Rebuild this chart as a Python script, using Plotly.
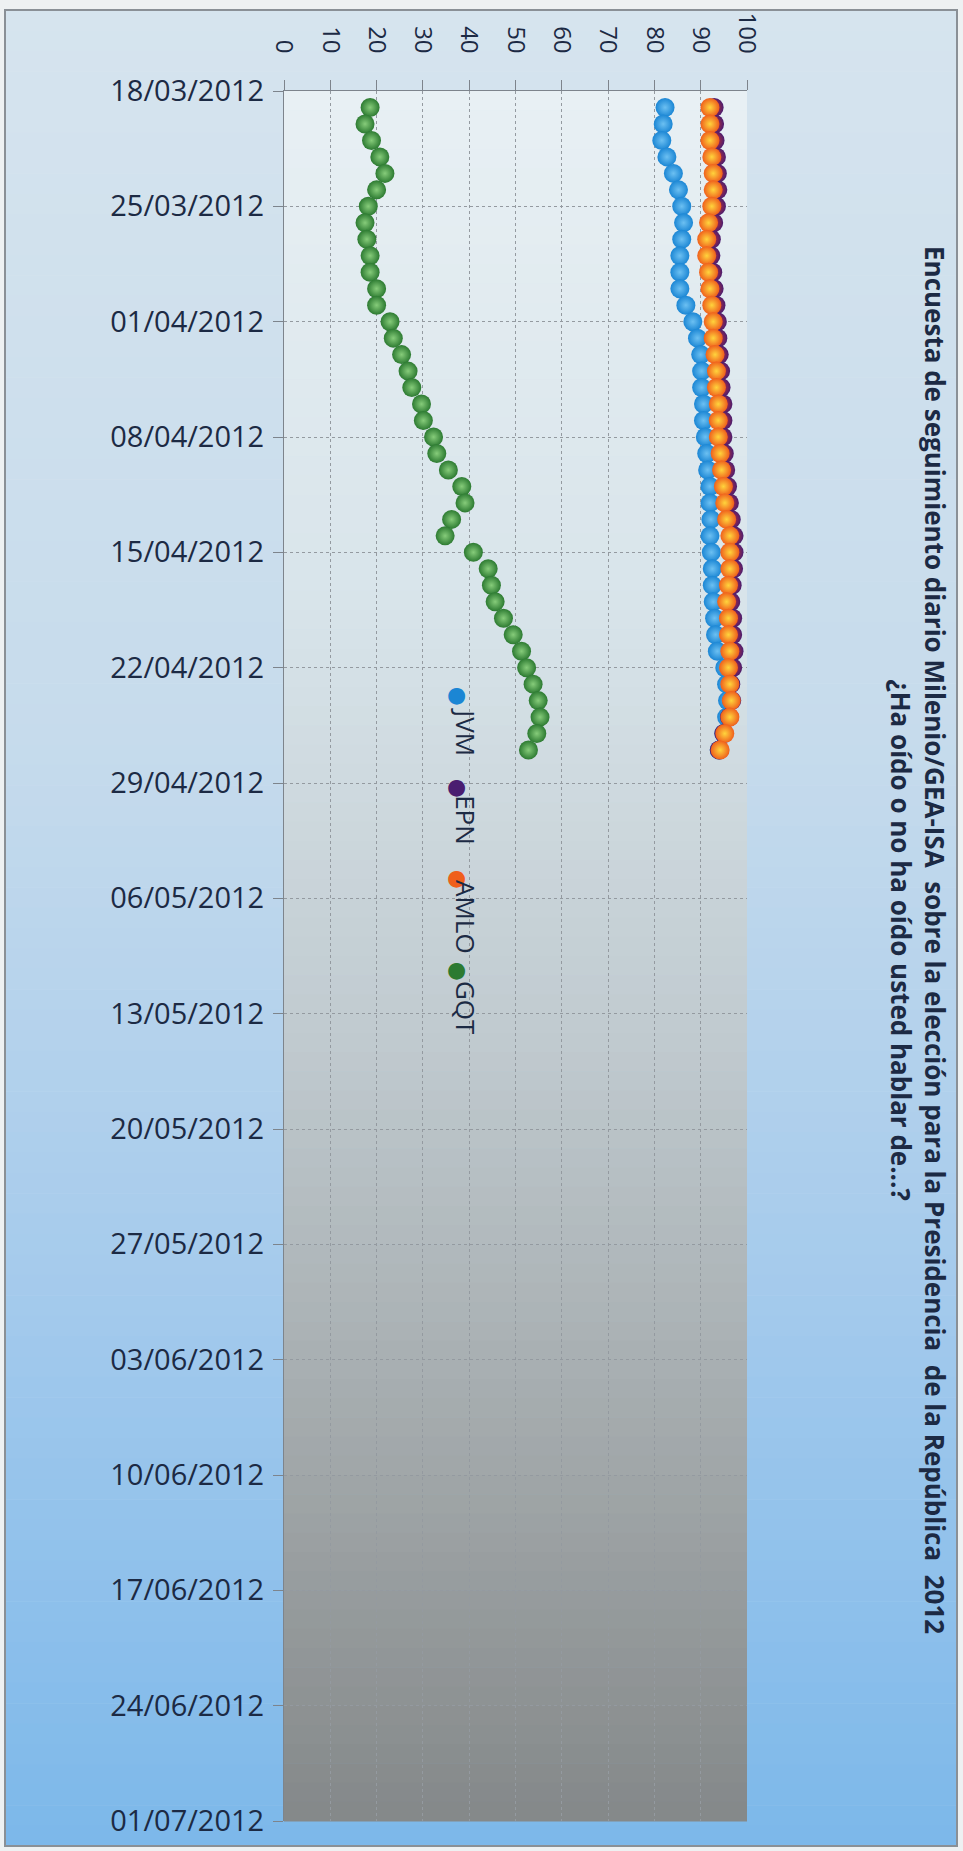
import plotly.graph_objects as go
import pandas as pd

# Encuesta diaria Milenio/GEA-ISA, "¿Ha oído o no ha oído usted hablar de...?"
fechas = pd.date_range("2012-03-19", "2012-04-27", freq="D")

jvm = [82.3, 81.9, 81.6, 82.7, 84.1, 85.2, 85.9, 86.3, 85.9, 85.5,
       85.5, 85.5, 86.8, 88.3, 89.3, 90.0, 90.2, 90.2, 90.6, 90.6,
       91.0, 91.3, 91.5, 92.0, 92.0, 92.2, 92.0, 92.3, 92.5, 92.5,
       92.7, 93.0, 93.2, 93.6, 95.2, 95.6, 95.8, 95.6, 95.0, 94.0]
epn = [92.9, 93.0, 93.1, 93.4, 93.6, 93.7, 93.4, 92.8, 92.3, 92.2,
       92.6, 92.9, 93.3, 93.6, 93.7, 94.0, 94.3, 94.4, 94.8, 94.8,
       94.8, 95.1, 95.4, 95.8, 96.2, 96.6, 97.2, 97.2, 97.1, 96.8,
       96.5, 96.9, 96.9, 97.2, 96.9, 96.5, 96.7, 96.2, 95.0, 94.0]
amlo = [92.0, 92.0, 92.0, 92.4, 92.7, 92.7, 92.4, 91.7, 91.3, 91.3,
        91.7, 92.0, 92.4, 92.7, 92.7, 93.1, 93.4, 93.4, 93.8, 93.8,
        93.8, 94.2, 94.5, 94.9, 95.2, 95.6, 96.3, 96.3, 96.3, 96.0,
        95.6, 96.0, 96.0, 96.3, 96.0, 96.3, 96.6, 96.3, 95.2, 94.2]
gqt = [18.6, 17.5, 18.9, 20.7, 21.8, 20.0, 18.2, 17.5, 17.9, 18.6,
       18.6, 20.0, 20.0, 22.9, 23.6, 25.4, 26.8, 27.6, 29.7, 30.1,
       32.3, 33.0, 35.5, 38.4, 39.1, 36.2, 34.8, 40.9, 44.1, 44.8,
       45.6, 47.4, 49.5, 51.3, 52.4, 53.8, 54.9, 55.3, 54.6, 52.8]

candidatos = ["JVM", "EPN", "AMLO", "GQT"]
series = [jvm, epn, amlo, gqt]
# (borde, centro) de cada bolita
colores = [("#1b86d4", "#6cc0f2"), ("#4a1d70", "#d8322a"),
           ("#ef5f1c", "#ffd43c"), ("#2c7a31", "#86cc7a")]

titulo = ("Encuesta de seguimiento diario Milenio/GEA-ISA &nbsp;sobre la elección para la "
          "Presidencia &nbsp;de la República &nbsp;2012<br>¿Ha oído o no ha oído usted hablar de...?")

# area de trazado en pixeles
L, R, T, B = 284, 747, 91, 1823
W, H = 963, 1851
TXT = "#1c2a44"


def px(xp):
    return (xp - L) / (R - L)


def py(yp):
    return (B - yp) / (B - T)


def mezcla(paradas, f):
    for (f0, c0), (f1, c1) in zip(paradas, paradas[1:]):
        if f0 <= f <= f1:
            t = (f - f0) / (f1 - f0) if f1 > f0 else 0
            c = [round(a + (b - a) * t) for a, b in zip(c0, c1)]
            return "rgb(%d,%d,%d)" % tuple(c)
    return "rgb(%d,%d,%d)" % paradas[-1][1]


def degradado(x0, x1, y0, y1, paradas, n=90):
    formas = []
    paso = (y1 - y0) / n
    for i in range(n):
        ya = y0 + i * paso
        formas.append(dict(type="rect", xref="paper", yref="paper", layer="below",
                           x0=px(x0), x1=px(x1), y0=py(ya + paso + 0.5), y1=py(ya),
                           fillcolor=mezcla(paradas, (i + 0.5) / n), line=dict(width=0)))
    return formas


fondo = [(0, (214, 228, 238)), (0.4, (198, 219, 236)), (0.7, (164, 202, 236)), (1, (124, 184, 234))]
fondo_plot = [(0, (232, 240, 244)), (0.3, (216, 228, 234)), (0.55, (192, 202, 207)),
              (0.8, (160, 166, 168)), (1, (132, 136, 137))]

fig = go.Figure()

for nombre, valores, (borde, centro) in zip(candidatos, series, colores):
    fig.add_trace(go.Scatter(
        x=valores, y=fechas, mode="markers", name=nombre, showlegend=False,
        marker=dict(size=19, color=borde, line=dict(width=0),
                    gradient=dict(type="radial", color=centro))
    ))

formas = degradado(5, 957, 10, 1848, fondo) + degradado(L, R, T, B, fondo_plot)
formas.append(dict(type="rect", xref="paper", yref="paper", layer="above",
                   x0=px(5), x1=px(957), y0=py(1848), y1=py(10),
                   line=dict(color="#8a9096", width=2)))

anotaciones = [dict(xref="paper", yref="paper", x=px(918), y=py(941), text=titulo,
                    showarrow=False, textangle=90, align="center",
                    xanchor="center", yanchor="middle",
                    font=dict(family="Open Sans", size=26, color=TXT, weight="bold"))]

# leyenda girada: bolita y texto por separado
bolita_y = [695, 787, 878, 971]
texto_y = [732, 821, 918, 1009]
for nombre, (borde, centro), yb, yt in zip(candidatos, colores, bolita_y, texto_y):
    anotaciones.append(dict(
        xref="paper", yref="paper", x=px(456), y=py(yb), showarrow=False,
        xanchor="center", yanchor="middle", text="●",
        font=dict(family="DejaVu Sans", size=22, color=borde)))
    anotaciones.append(dict(
        xref="paper", yref="paper", x=px(466), y=py(yt), showarrow=False,
        textangle=90, xanchor="center", yanchor="middle", text=nombre,
        font=dict(family="Open Sans", size=26, color=TXT)))

fig.update_layout(
    width=W, height=H,
    margin=dict(l=L, r=W - R, t=T, b=H - B, pad=0),
    paper_bgcolor="#eef1f2",
    plot_bgcolor="rgba(0,0,0,0)",
    shapes=formas,
    annotations=anotaciones,
    showlegend=False,
    xaxis=dict(side="top", range=[0, 100], dtick=10, tickangle=90,
               showline=True, linecolor="#7d848c", linewidth=1,
               ticks="outside", ticklen=10, tickcolor="#7d848c",
               ticklabelstandoff=18,
               showgrid=True, gridcolor="#949aa0", griddash="dot", gridwidth=1,
               zeroline=False,
               tickfont=dict(family="Open Sans", size=24, color=TXT)),
    yaxis=dict(type="date", range=["2012-07-01", "2012-03-18"],
               tick0="2012-03-18", dtick=7 * 86400000, tickformat="%d/%m/%Y",
               showline=True, linecolor="#7d848c", linewidth=1,
               ticks="outside", ticklen=10, tickcolor="#7d848c",
               ticklabelstandoff=3,
               showgrid=True, gridcolor="#949aa0", griddash="dot", gridwidth=1,
               zeroline=False,
               tickfont=dict(family="Open Sans", size=29, color=TXT)),
)

fig.write_html("out.html", config={"displayModeBar": False},
               post_script="document.body.style.margin='0';")
